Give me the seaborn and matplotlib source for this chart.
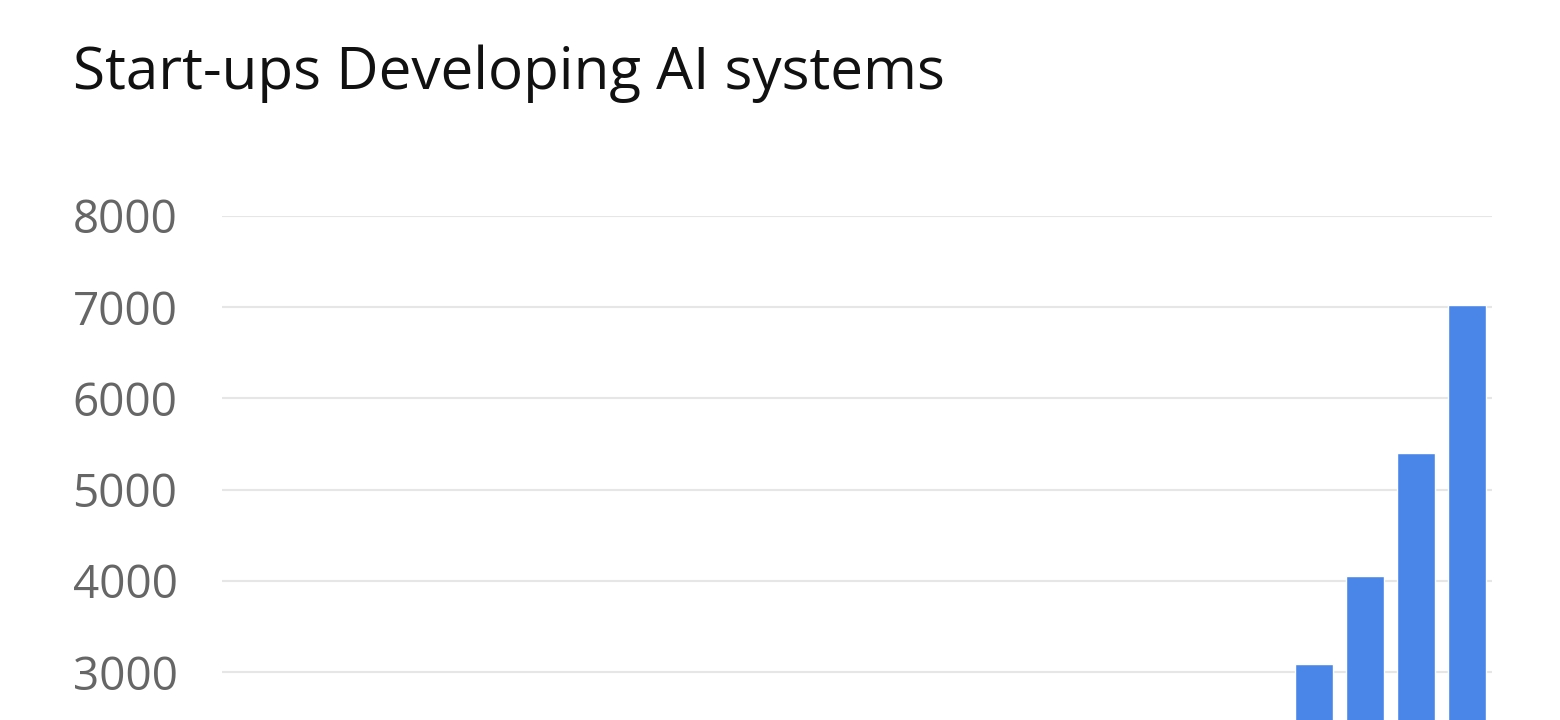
import pandas as pd
import seaborn as sns
import matplotlib.pyplot as plt

# start-ups per year (only the last bars show in the cropped view)
years = [str(y) for y in range(1995, 2020)]
startups = [150, 180, 210, 250, 290, 330, 370, 420, 480, 540, 610, 690, 780,
            880, 990, 1110, 1250, 1420, 1650, 1900, 2440, 3090, 4050, 5400, 7020]
yticks = [3000, 4000, 5000, 6000, 7000, 8000]

df = pd.DataFrame({'year': years, 'startups': startups})

sns.set_style('white')
plt.rcParams['font.family'] = ['Open Sans', 'DejaVu Sans']

fig = plt.figure(figsize=(15.6, 7.2), dpi=100)
# axes run below the bottom of the figure, as in the cropped original
ax = fig.add_axes([222 / 1560, (720 - 945.6) / 720, 1270 / 1560, 729.6 / 720])

sns.barplot(data=df, x='year', y='startups', color='#4a86e8', saturation=1,
            width=0.75, ax=ax)

ax.set_ylim(0, 8000)
ax.set_yticks(yticks)
ax.set_yticklabels([str(t) for t in yticks])
ax.yaxis.grid(True, color='#e6e6e6', linewidth=1.5)
ax.set_axisbelow(True)
ax.tick_params(axis='y', length=0, pad=32, labelsize=33, labelcolor='#666666')
ax.tick_params(axis='x', length=0, labelbottom=False)
ax.set_xlabel('')
ax.set_ylabel('')
sns.despine(ax=ax, left=True, bottom=True)

fig.text(73 / 1560, (720 - 89) / 720, 'Start-ups Developing AI systems',
         fontsize=42, fontweight='medium', color='#111111', ha='left', va='baseline')

fig.savefig('out.png', dpi=100)
